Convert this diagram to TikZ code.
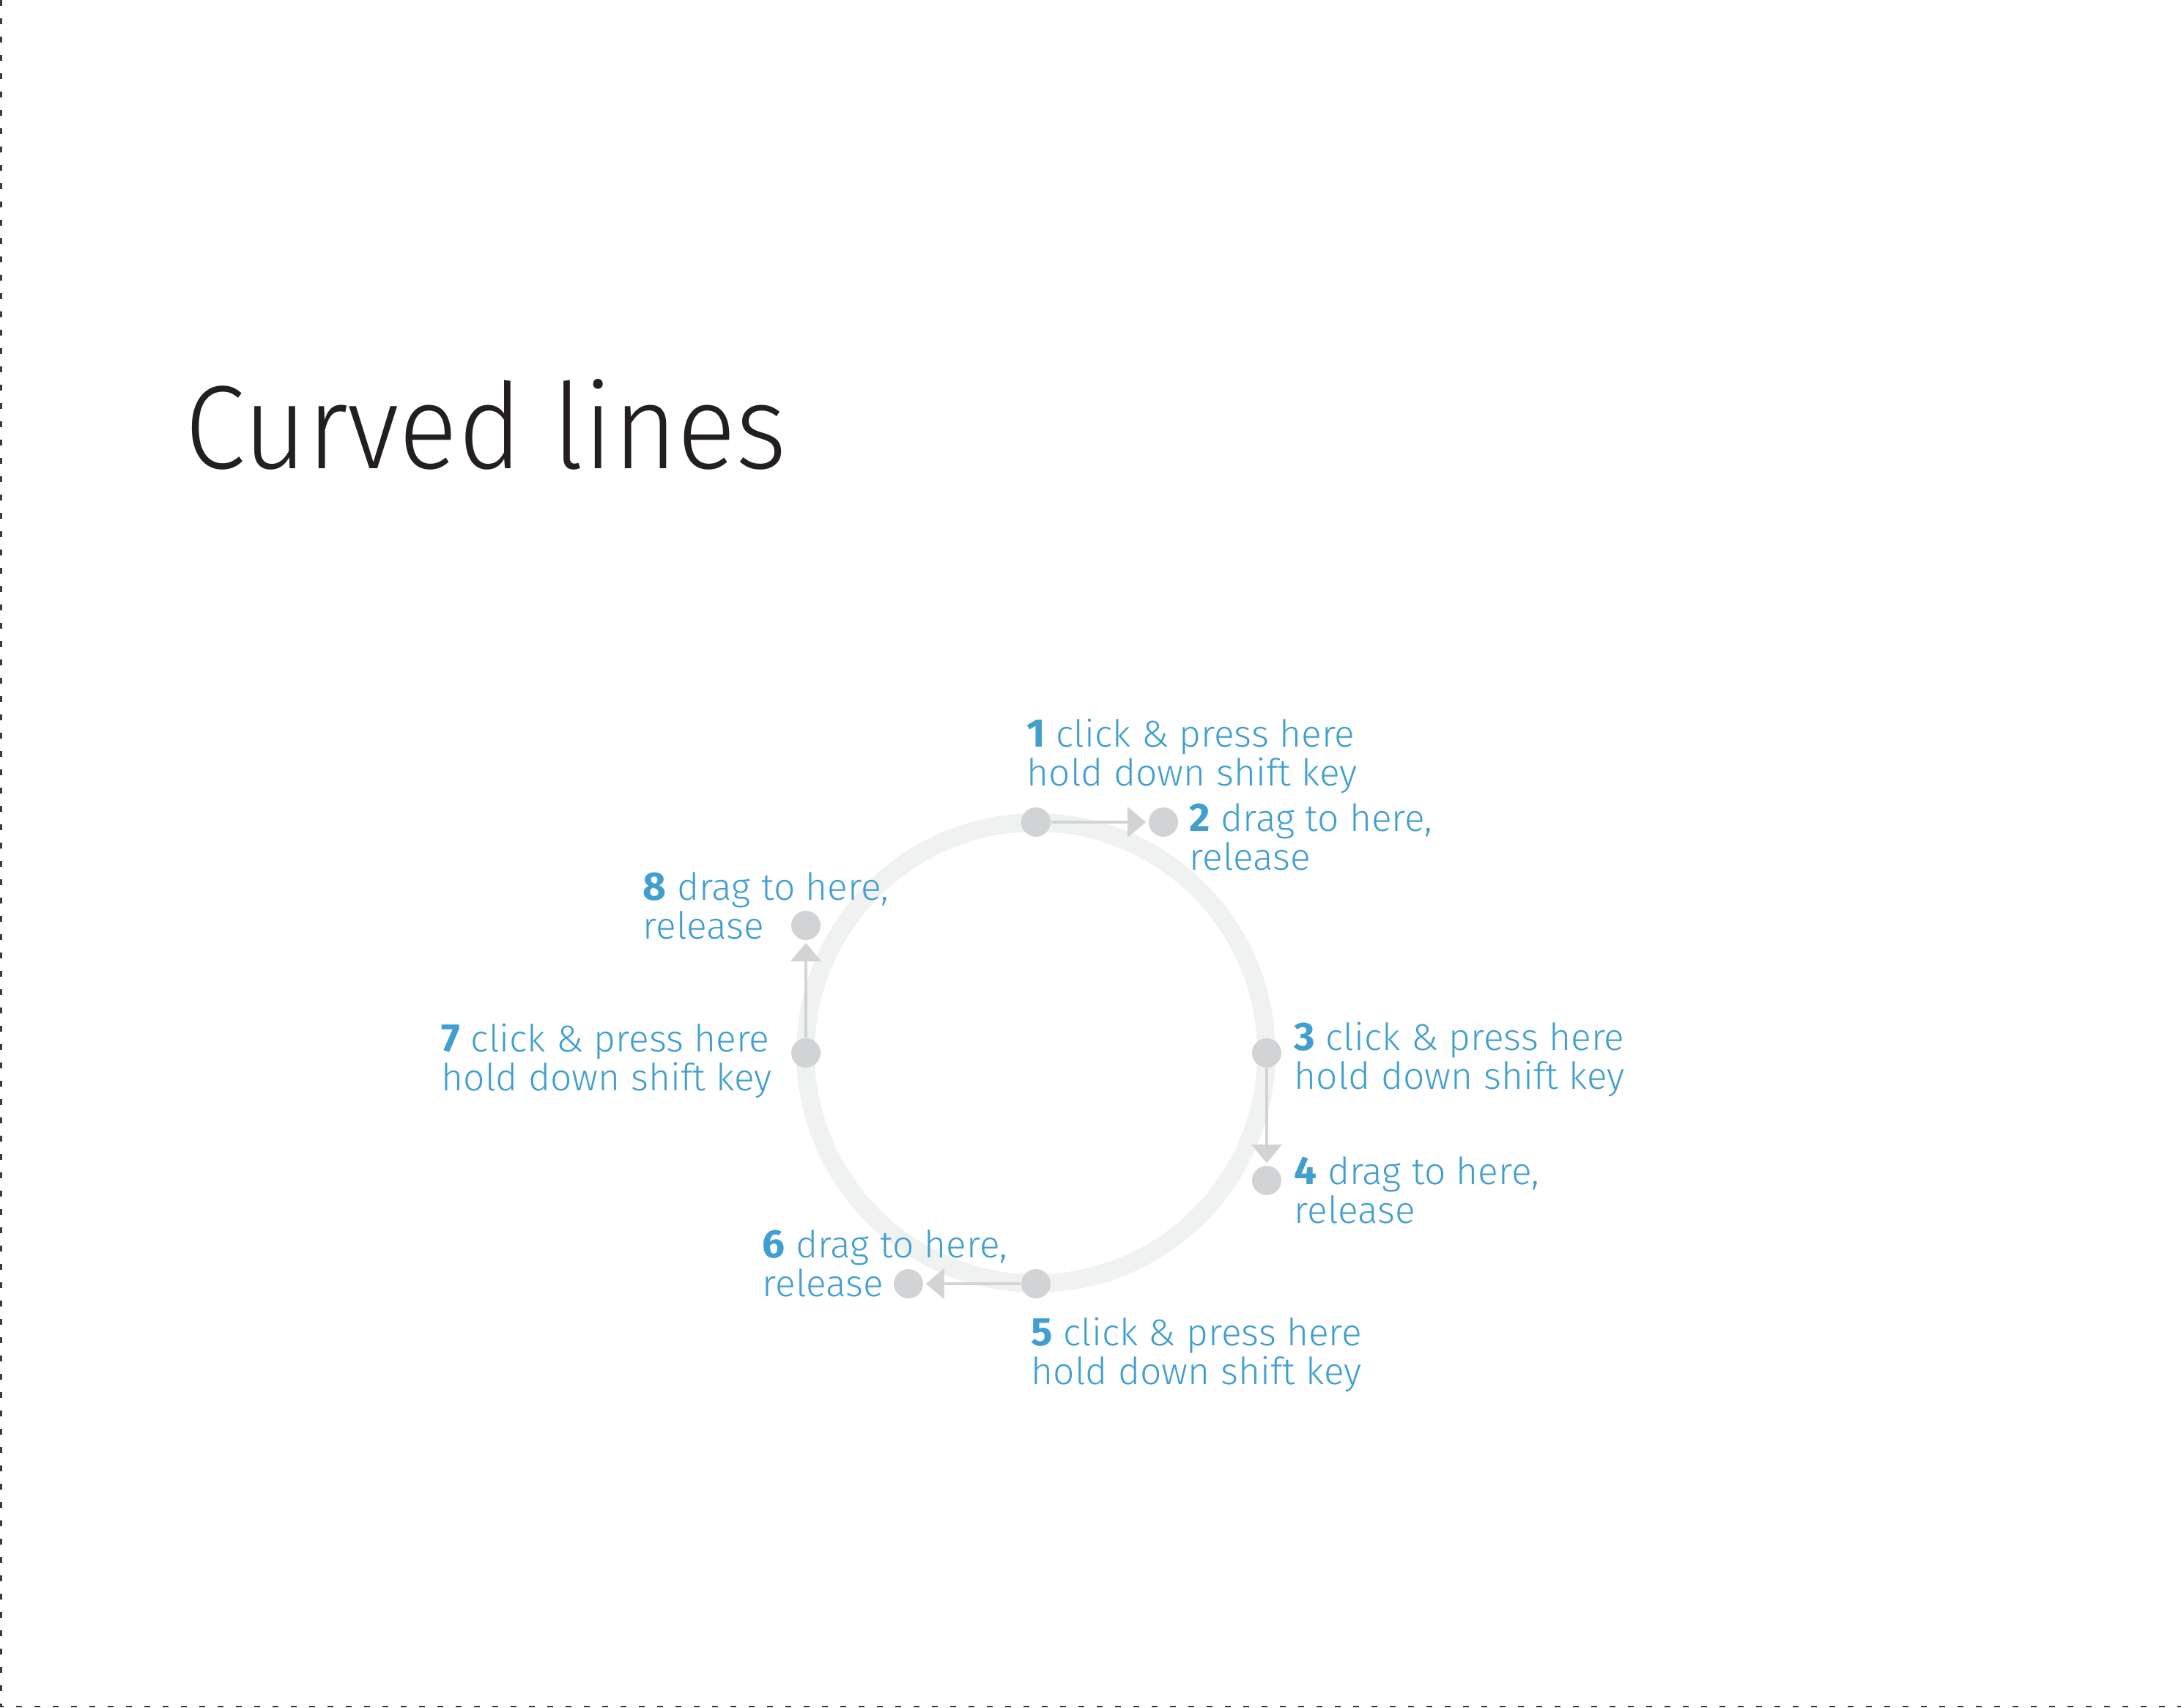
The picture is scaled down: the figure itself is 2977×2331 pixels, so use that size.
\documentclass[tikz,border=0pt]{standalone}
\usepackage{fontspec}
\setmainfont{Fira Sans}[UprightFont={* Light},BoldFont={* Bold}]
\newfontfamily\titlefont{Fira Sans}[UprightFont={* Light},FakeStretch=0.924]
\newfontfamily\lblfont{Fira Sans}[UprightFont={* Light},BoldFont={* Bold},FakeStretch=1.01]
\newcommand\stepnum[1]{{\fontsize{13.6}{13.25}\selectfont\bfseries #1}}
\usetikzlibrary{arrows.meta}
\definecolor{lblue}{HTML}{419FCF}
\definecolor{dotgray}{HTML}{D1D3D4}
\definecolor{ringgray}{HTML}{F0F1F1}
\definecolor{titleblack}{HTML}{231F20}
\definecolor{framegray}{HTML}{3A3A3A}
\begin{document}
\begin{tikzpicture}[x=0.25pt,y=-0.25pt,
  dot/.style={circle,fill=dotgray,minimum size=10pt,inner sep=0pt},
  move/.style={draw=dotgray,line width=1pt,-{Triangle[width=10.25pt,length=6.25pt]},shorten >=0.75pt},
  lbl/.style={text=lblue,font=\lblfont\fontsize{12.75}{13.25}\selectfont,align=left,anchor=base west,inner sep=0pt},
  frame/.style={draw=framegray,line width=0.7pt,dash pattern=on 2pt off 4.25pt}
]
\useasboundingbox (0,0) rectangle (2977,2331);
% frame
\coordinate (ftl) at (1.3,0);
\coordinate (fbl) at (1.3,2329);
\coordinate (fbr) at (2977,2329);
\draw[frame] (ftl) -- (fbl) -- (fbr);
% title
\node[anchor=base west,inner sep=0pt,text=titleblack,font=\titlefont\fontsize{40.5}{40.5}\selectfont] (title) at (252,640) {Curved lines};
% ring
\coordinate (c) at (1414,1437);
\draw[ringgray,line width=6.25pt] (c) circle[radius=314.5];
% dots
\node[dot] (d1) at (1414,1122) {};
\node[dot] (d2) at (1588,1122) {};
\node[dot] (d3) at (1729,1437) {};
\node[dot] (d4) at (1729,1611) {};
\node[dot] (d5) at (1414,1752) {};
\node[dot] (d6) at (1240,1752) {};
\node[dot] (d7) at (1100,1437) {};
\node[dot] (d8) at (1100,1263) {};
% arrows
\draw[move] (d1) -- (d2);
\draw[move] (d3) -- (d4);
\draw[move] (d5) -- (d6);
\draw[move] (d7) -- (d8);
% labels (anchor = baseline of the last line)
\node[lbl] (l1) at (1401,1073) {\stepnum{1} click \& press here\\hold down shift key};
\node[lbl] (l2) at (1623,1188) {\stepnum{2} drag to here,\\release};
\node[lbl] (l3) at (1766,1486) {\stepnum{3} click \& press here\\hold down shift key};
\node[lbl] (l4) at (1766,1669) {\stepnum{4} drag to here,\\release};
\node[lbl] (l5) at (1407,1889) {\stepnum{5} click \& press here\\hold down shift key};
\node[lbl] (l6) at (1040,1769) {\stepnum{6} drag to here,\\release};
\node[lbl] (l7) at (602,1488) {\stepnum{7} click \& press here\\hold down shift key};
\node[lbl] (l8) at (877,1281) {\stepnum{8} drag to here,\\release};
\end{tikzpicture}
\end{document}
